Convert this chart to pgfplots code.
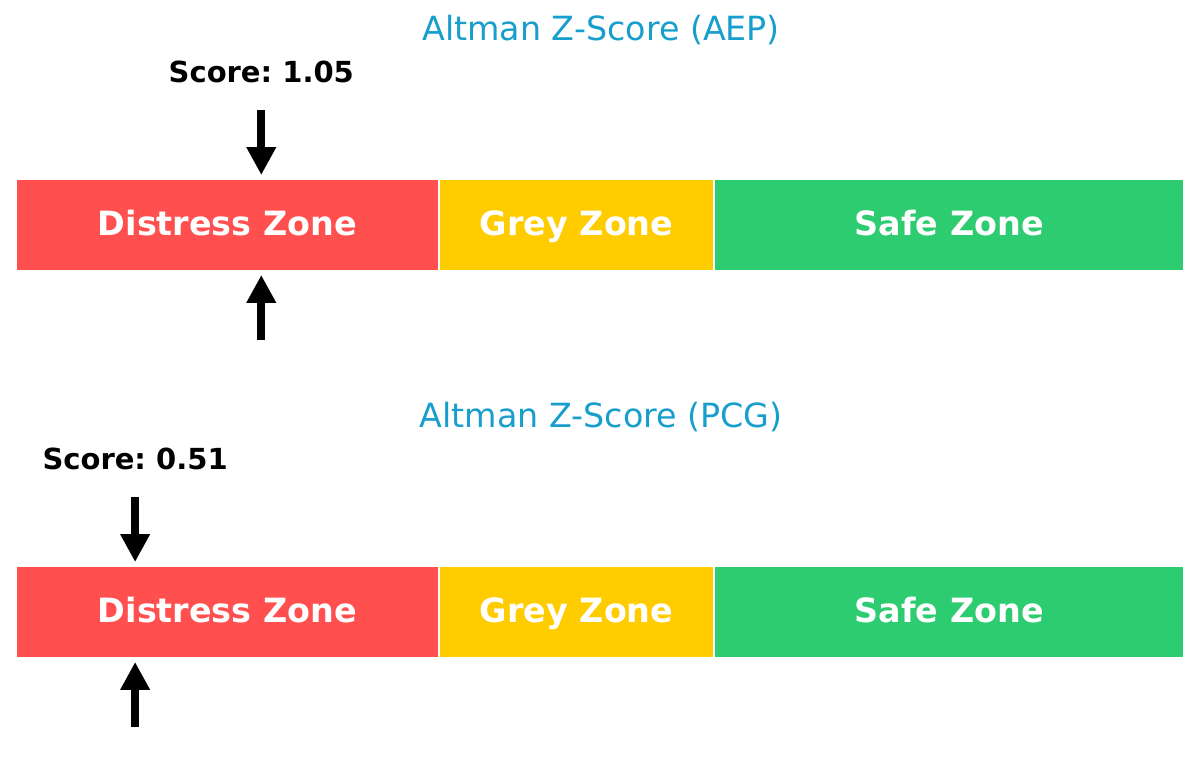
\documentclass[border=0pt]{standalone}
\usepackage{pgfplots}
\pgfplotsset{compat=1.18}
\usepackage{fontspec}
\setmainfont{DejaVu Sans}
\usetikzlibrary{arrows.meta}
\frenchspacing
\definecolor{zred}{RGB}{255,79,79}
\definecolor{zyel}{RGB}{255,204,0}
\definecolor{zgrn}{RGB}{46,204,113}
\definecolor{ttl}{RGB}{23,158,204}
\pgfplotsset{
  zpanel/.style={
    scale only axis, width=584bp, height=193.5bp,
    xmin=0, xmax=5, ymin=-1.261, ymax=2.946,
    hide axis, clip=false,
  },
}
\tikzset{
  zone/.style={draw=white, line width=1bp},
  zarrow/.style={black, line width=4bp, line cap=butt,
    -{Triangle[width=14bp,length=14bp]}},
  zlab/.style={anchor=base, text=white, font=\fontsize{16.7bp}{20bp}\selectfont\bfseries},
  zscore/.style={anchor=base, font=\fontsize{14.5bp}{18bp}\selectfont\bfseries},
  ztitle/.style={anchor=base, text=ttl, font=\fontsize{16.65bp}{20bp}\selectfont},
}
\begin{document}
\begin{tikzpicture}
\path (0,0) rectangle (600bp,387bp);
% ---------- AEP ----------
\begin{axis}[zpanel, at={(8bp,193.5bp)}, anchor=south west]
\addplot[zone, fill=zred] coordinates {(0,0) (1.81,0) (1.81,1) (0,1)} --cycle;
\addplot[zone, fill=zyel] coordinates {(1.81,0) (2.99,0) (2.99,1) (1.81,1)} --cycle;
\addplot[zone, fill=zgrn] coordinates {(2.99,0) (5,0) (5,1) (2.99,1)} --cycle;
\node[zlab] at (axis cs:0.905,0.391) {Distress Zone};
\node[zlab] at (axis cs:2.40,0.391) {Grey Zone};
\node[zlab] at (axis cs:3.995,0.391) {Safe Zone};
\addplot[zarrow, mark=none] coordinates {(1.05,1.75) (1.05,1.043)};
\addplot[zarrow, mark=none] coordinates {(1.05,-0.75) (1.05,-0.043)};
\node[zscore] at (axis cs:1.05,2.054) {Score: 1.05};
\node[ztitle] at (axis cs:2.505,2.511) {Altman Z-Score (AEP)};
\end{axis}
% ---------- PCG ----------
\begin{axis}[zpanel, at={(8bp,0bp)}, anchor=south west]
\addplot[zone, fill=zred] coordinates {(0,0) (1.81,0) (1.81,1) (0,1)} --cycle;
\addplot[zone, fill=zyel] coordinates {(1.81,0) (2.99,0) (2.99,1) (1.81,1)} --cycle;
\addplot[zone, fill=zgrn] coordinates {(2.99,0) (5,0) (5,1) (2.99,1)} --cycle;
\node[zlab] at (axis cs:0.905,0.391) {Distress Zone};
\node[zlab] at (axis cs:2.40,0.391) {Grey Zone};
\node[zlab] at (axis cs:3.995,0.391) {Safe Zone};
\addplot[zarrow, mark=none] coordinates {(0.51,1.75) (0.51,1.043)};
\addplot[zarrow, mark=none] coordinates {(0.51,-0.75) (0.51,-0.043)};
\node[zscore] at (axis cs:0.51,2.054) {Score: 0.51};
\node[ztitle] at (axis cs:2.505,2.511) {Altman Z-Score (PCG)};
\end{axis}
\end{tikzpicture}
\end{document}
